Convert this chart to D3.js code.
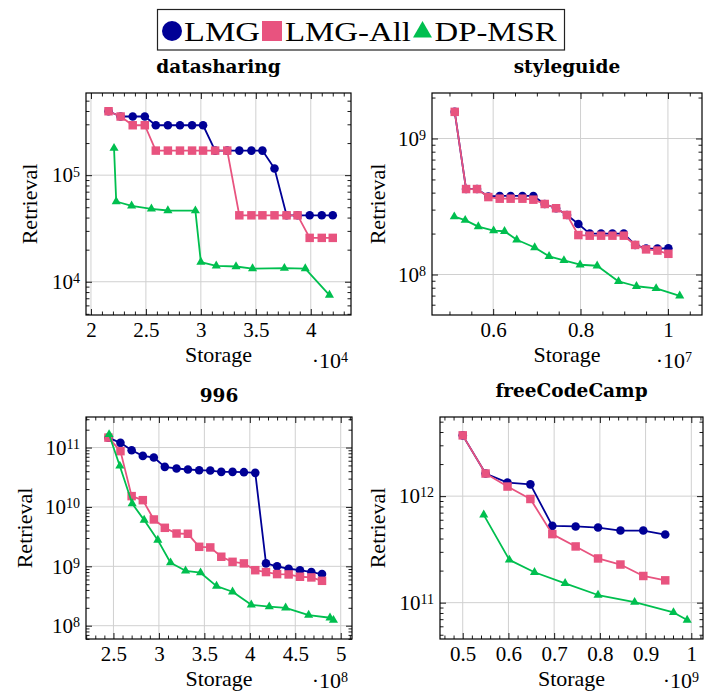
<!DOCTYPE html>
<html>
<head>
<meta charset="utf-8">
<script src="https://cdn.jsdelivr.net/npm/d3@7"></script>
<style>
body { margin: 0; background: #fff; }
svg text { fill: #000; }
.tick text { font-size: 21px; }
.title { font-weight: bold; font-size: 18.5px; }
.lab { font-size: 22px; }
</style>
</head>
<body>
<div id="chart"></div>
<script>
// ---- data (x in axis units shown on the chart, y = retrieval) ----
// datasharing (x ·10^4)
var dsLmgX = [2.16, 2.27, 2.38, 2.49, 2.59, 2.70, 2.81, 2.92, 3.02, 3.13, 3.24, 3.35, 3.46, 3.56, 3.67, 3.78, 3.88, 3.99, 4.10, 4.20];
var dsLmgY = [3.98e5, 3.55e5, 3.55e5, 3.55e5, 2.94e5, 2.94e5, 2.94e5, 2.94e5, 2.94e5, 1.70e5, 1.70e5, 1.70e5, 1.70e5, 1.70e5, 1.155e5, 4.2e4, 4.2e4, 4.2e4, 4.2e4, 4.2e4];
var dsAllX = dsLmgX;
var dsAllY = [3.98e5, 3.55e5, 2.94e5, 2.94e5, 1.70e5, 1.70e5, 1.70e5, 1.70e5, 1.70e5, 1.70e5, 1.70e5, 4.2e4, 4.2e4, 4.2e4, 4.2e4, 4.2e4, 4.2e4, 2.58e4, 2.58e4, 2.58e4];
var dsMsrX = [2.21, 2.23, 2.37, 2.55, 2.70, 2.95, 3.00, 3.14, 3.32, 3.47, 3.76, 3.95, 4.17];
var dsMsrY = [1.79e5, 5.66e4, 5.16e4, 4.83e4, 4.66e4, 4.64e4, 1.53e4, 1.41e4, 1.39e4, 1.33e4, 1.34e4, 1.33e4, 7.5e3];

// styleguide (x ·10^7)
var sgLmgX = [0.512, 0.538, 0.563, 0.589, 0.615, 0.640, 0.667, 0.692, 0.718, 0.744, 0.769, 0.795, 0.821, 0.847, 0.873, 0.899, 0.925, 0.950, 0.976, 1.001];
var sgLmgY = [1.57e9, 4.25e8, 4.25e8, 3.75e8, 3.78e8, 3.78e8, 3.78e8, 3.78e8, 3.3e8, 3.07e8, 2.74e8, 2.35e8, 2.0e8, 2.0e8, 2.0e8, 2.0e8, 1.65e8, 1.55e8, 1.55e8, 1.56e8];
var sgAllX = sgLmgX;
var sgAllY = [1.57e9, 4.25e8, 4.25e8, 3.71e8, 3.61e8, 3.61e8, 3.61e8, 3.55e8, 3.3e8, 3.07e8, 2.74e8, 1.95e8, 1.93e8, 1.93e8, 1.93e8, 1.93e8, 1.65e8, 1.53e8, 1.5e8, 1.42e8];
var sgMsrX = [0.511, 0.536, 0.566, 0.601, 0.626, 0.654, 0.695, 0.728, 0.762, 0.799, 0.838, 0.887, 0.928, 0.973, 1.027];
var sgMsrY = [2.66e8, 2.51e8, 2.25e8, 2.1e8, 2.08e8, 1.8e8, 1.58e8, 1.36e8, 1.27e8, 1.18e8, 1.16e8, 8.9e7, 8.2e7, 7.9e7, 6.97e7];

// 996 (x ·10^8)
var nnLmgX = [2.445, 2.577, 2.70, 2.823, 2.944, 3.065, 3.194, 3.319, 3.443, 3.565, 3.686, 3.81, 3.935, 4.06, 4.178, 4.30, 4.427, 4.552, 4.677, 4.794];
var nnLmgY = [1.47e11, 1.2e11, 9.0e10, 7.24e10, 6.8e10, 4.73e10, 4.44e10, 4.27e10, 4.16e10, 4.1e10, 3.9e10, 3.9e10, 3.85e10, 3.75e10, 1.12e9, 1.0e9, 9.1e8, 8.6e8, 8.0e8, 7.4e8];
var nnAllX = nnLmgX;
var nnAllY = [1.47e11, 8.7e10, 1.52e10, 1.3e10, 6.15e9, 4.45e9, 3.57e9, 3.53e9, 2.13e9, 2.08e9, 1.45e9, 1.19e9, 1.12e9, 8.6e8, 8.0e8, 7.4e8, 7.3e8, 6.67e8, 6.5e8, 5.7e8];
var nnMsrX = [2.452, 2.57, 2.706, 2.838, 2.988, 3.128, 3.293, 3.458, 3.634, 3.81, 4.016, 4.214, 4.394, 4.647, 4.882, 4.92];
var nnMsrY = [1.66e11, 4.9e10, 1.14e10, 6.0e9, 2.76e9, 1.15e9, 8.4e8, 7.8e8, 4.64e8, 3.73e8, 2.25e8, 2.09e8, 2.0e8, 1.51e8, 1.36e8, 1.24e8];

// freeCodeCamp (x ·10^9)
var fcLmgX = [0.500, 0.550, 0.598, 0.648, 0.696, 0.747, 0.796, 0.845, 0.895, 0.943];
var fcLmgY = [3.72e12, 1.63e12, 1.34e12, 1.29e12, 5.26e11, 5.19e11, 5.07e11, 4.75e11, 4.75e11, 4.36e11];
var fcAllX = fcLmgX;
var fcAllY = [3.72e12, 1.63e12, 1.23e12, 9.4e11, 4.4e11, 3.37e11, 2.6e11, 2.28e11, 1.78e11, 1.62e11];
var fcMsrX = [0.546, 0.602, 0.657, 0.724, 0.796, 0.876, 0.961, 0.991];
var fcMsrY = [6.67e11, 2.52e11, 1.93e11, 1.52e11, 1.18e11, 1.01e11, 8.1e10, 6.87e10];

// tick labels
var dsXTicks = [2, 2.5, 3, 3.5, 4];
var sgXTicks = [0.6, 0.8, 1];
var nnXTicks = [2.5, 3, 3.5, 4, 4.5, 5];
var fcXTicks = [0.5, 0.6, 0.7, 0.8, 0.9, 1];
var dsYExp = [4, 5];
var sgYExp = [8, 9];
var nnYExp = [8, 9, 10, 11];
var fcYExp = [11, 12];

var seriesNames = ["LMG", "LMG-All", "DP-MSR"];
var seriesColors = ["#000096", "#e8537f", "#00bf4f"];
var seriesSymbols = [d3.symbolCircle, d3.symbolSquare, d3.symbolTriangle];
var markSizes = [58, 72, 36];

var serif = "'Liberation Serif', 'Times New Roman', Tinos, Times, 'DejaVu Serif', serif";
var boldSerif = "'DejaVu Serif', 'Liberation Serif', 'Times New Roman', serif";

// ---- layout ----
var svg = d3.select("#chart").append("svg")
    .attr("width", 704)
    .attr("height", 694);

var panels = [
  {title: "datasharing", box: [86, 93, 351, 315], xDom: [1.955, 4.366], yDom: [4875, 5.9e5],
   xTicks: dsXTicks, minor: 0.1, yExp: dsYExp, scale: 4, titleDy: -20, ylabX: -49, expX: -3, expY: 53,
   data: [[dsLmgX, dsLmgY], [dsAllX, dsAllY], [dsMsrX, dsMsrY]]},
  {title: "styleguide", box: [432, 93, 702, 315], xDom: [0.460, 1.078], yDom: [5.04e7, 2.16e9],
   xTicks: sgXTicks, minor: 0.05, yExp: sgYExp, scale: 7, titleDy: -20, ylabX: -47, expX: -10, expY: 53,
   data: [[sgLmgX, sgLmgY], [sgAllX, sgAllY], [sgMsrX, sgMsrY]]},
  {title: "996", box: [86, 417, 352, 639], xDom: [2.198, 5.124], yDom: [5.97e7, 3.27e11],
   xTicks: nnXTicks, minor: 0.1, yExp: nnYExp, scale: 8, titleDy: -15, ylabX: -54, expX: -4, expY: 49,
   data: [[nnLmgX, nnLmgY], [nnAllX, nnAllY], [nnMsrX, nnMsrY]]},
  {title: "freeCodeCamp", box: [440, 417, 703, 639], xDom: [0.4503, 1.0256], yDom: [4.56e10, 5.53e12],
   xTicks: fcXTicks, minor: 0.02, yExp: fcYExp, scale: 9, titleDy: -20, ylabX: -55, expX: -4, expY: 49,
   data: [[fcLmgX, fcLmgY], [fcAllX, fcAllY], [fcMsrX, fcMsrY]]}
];

function fmt(v) { return String(+v.toFixed(3)); }

function sup(sel, base, exp) {
  sel.text(base);
  sel.append("tspan").attr("dy", "-0.42em").style("font-size", "14px").text(exp);
}

panels.forEach(function(p) {
  var w = p.box[2] - p.box[0], h = p.box[3] - p.box[1];
  var g = svg.append("g").attr("transform", "translate(" + p.box[0] + "," + p.box[1] + ")");

  var x = d3.scaleLinear().domain(p.xDom).range([0, w]);
  var y = d3.scaleLog().domain(p.yDom).range([h, 0]);

  var yMajor = p.yExp.map(function(e) { return Math.pow(10, e); });
  var yMinor = [];
  var e0 = Math.floor(Math.log10(p.yDom[0])), e1 = Math.ceil(Math.log10(p.yDom[1]));
  for (var e = e0; e <= e1; e++) {
    for (var k = 2; k <= 9; k++) {
      var v = k * Math.pow(10, e);
      if (v > p.yDom[0] && v < p.yDom[1]) yMinor.push(v);
    }
  }
  var xMinor = [];
  for (var i = Math.ceil(p.xDom[0] / p.minor); i * p.minor < p.xDom[1]; i++) {
    var xv = +(i * p.minor).toFixed(4);
    if (!p.xTicks.some(function(t) { return Math.abs(t - xv) < 1e-6; })) xMinor.push(xv);
  }

  // grid
  g.selectAll(".gx").data(p.xTicks).enter().append("line")
    .attr("x1", function(d) { return x(d); }).attr("x2", function(d) { return x(d); })
    .attr("y1", 0).attr("y2", h)
    .attr("stroke", "#d0d0d0").attr("stroke-width", 1);
  g.selectAll(".gy").data(yMajor).enter().append("line")
    .attr("x1", 0).attr("x2", w)
    .attr("y1", function(d) { return y(d); }).attr("y2", function(d) { return y(d); })
    .attr("stroke", "#d0d0d0").attr("stroke-width", 1);

  // ticks, all four sides, pointing inward
  g.append("g").attr("transform", "translate(0," + h + ")")
    .call(d3.axisBottom(x).tickValues(p.xTicks).tickSize(-6).tickPadding(7).tickFormat(fmt));
  g.append("g").attr("transform", "translate(0," + h + ")")
    .call(d3.axisBottom(x).tickValues(xMinor).tickSize(-3.5).tickFormat(""));
  g.append("g")
    .call(d3.axisTop(x).tickValues(p.xTicks).tickSize(-6).tickFormat(""));
  g.append("g")
    .call(d3.axisTop(x).tickValues(xMinor).tickSize(-3.5).tickFormat(""));

  g.append("g")
    .call(d3.axisLeft(y).tickValues(yMajor).tickSize(-6).tickPadding(6).tickFormat(""))
    .selectAll(".tick text")
    .each(function(d) { sup(d3.select(this), "10", Math.round(Math.log10(d))); });
  g.append("g")
    .call(d3.axisLeft(y).tickValues(yMinor).tickSize(-3.5).tickFormat(""));
  g.append("g").attr("transform", "translate(" + w + ",0)")
    .call(d3.axisRight(y).tickValues(yMajor).tickSize(-6).tickFormat(""));
  g.append("g").attr("transform", "translate(" + w + ",0)")
    .call(d3.axisRight(y).tickValues(yMinor).tickSize(-3.5).tickFormat(""));

  g.selectAll(".domain").remove();
  g.selectAll(".tick line").attr("stroke-width", 0.9);

  g.append("rect")
    .attr("width", w).attr("height", h)
    .attr("fill", "none").attr("stroke", "#000").attr("stroke-width", 1.2);

  // series
  p.data.forEach(function(s, si) {
    var pts = s[0].map(function(xv, j) { return [xv, s[1][j]]; });
    g.append("path")
      .datum(pts)
      .attr("fill", "none")
      .attr("stroke", seriesColors[si])
      .attr("stroke-width", 1.8)
      .attr("stroke-linejoin", "round")
      .attr("d", d3.line().x(function(d) { return x(d[0]); }).y(function(d) { return y(d[1]); }));
    g.selectAll(".m" + si).data(pts).enter().append("path")
      .attr("transform", function(d) { return "translate(" + x(d[0]) + "," + y(d[1]) + ")"; })
      .attr("d", d3.symbol(seriesSymbols[si], markSizes[si]))
      .attr("fill", seriesColors[si]);
  });

  // texts
  g.append("text").attr("class", "title")
    .attr("x", w / 2).attr("y", p.titleDy)
    .attr("text-anchor", "middle")
    .text(p.title);
  g.append("text").attr("class", "lab")
    .attr("x", w / 2).attr("y", h + 47)
    .attr("text-anchor", "middle")
    .text("Storage");
  g.append("text").attr("class", "lab")
    .attr("transform", "translate(" + p.ylabX + "," + (h / 2) + ") rotate(-90)")
    .attr("text-anchor", "middle")
    .text("Retrieval");
  var ex = g.append("text").attr("class", "lab")
    .attr("x", w + p.expX).attr("y", h + p.expY)
    .attr("text-anchor", "end");
  sup(ex, "\u00b710", p.scale);
});

// ---- legend ----
var leg = svg.append("g");
leg.append("rect")
  .attr("x", 157.5).attr("y", 9.5).attr("width", 407).attr("height", 40.5)
  .attr("fill", "#fff").attr("stroke", "#222").attr("stroke-width", 1.2);
var legMarkX = [172, 272, 422.5];
var legTextX = [184, 285, 434.5];
var legTextW = [76, 126, 122];
var legMarkSize = [314, 400, 156];
seriesNames.forEach(function(n, i) {
  leg.append("path")
    .attr("transform", "translate(" + legMarkX[i] + "," + (i === 2 ? 32 : 31) + ")")
    .attr("d", d3.symbol(seriesSymbols[i], legMarkSize[i]))
    .attr("fill", seriesColors[i]);
  leg.append("text")
    .attr("x", legTextX[i]).attr("y", 40.5)
    .style("font-size", "28px")
    .attr("textLength", legTextW[i]).attr("lengthAdjust", "spacingAndGlyphs")
    .text(n);
});

// fonts set inline so nothing from the axis defaults wins
svg.selectAll("text").style("font-family", serif);
svg.selectAll(".title").style("font-family", boldSerif);
</script>
</body>
</html>
